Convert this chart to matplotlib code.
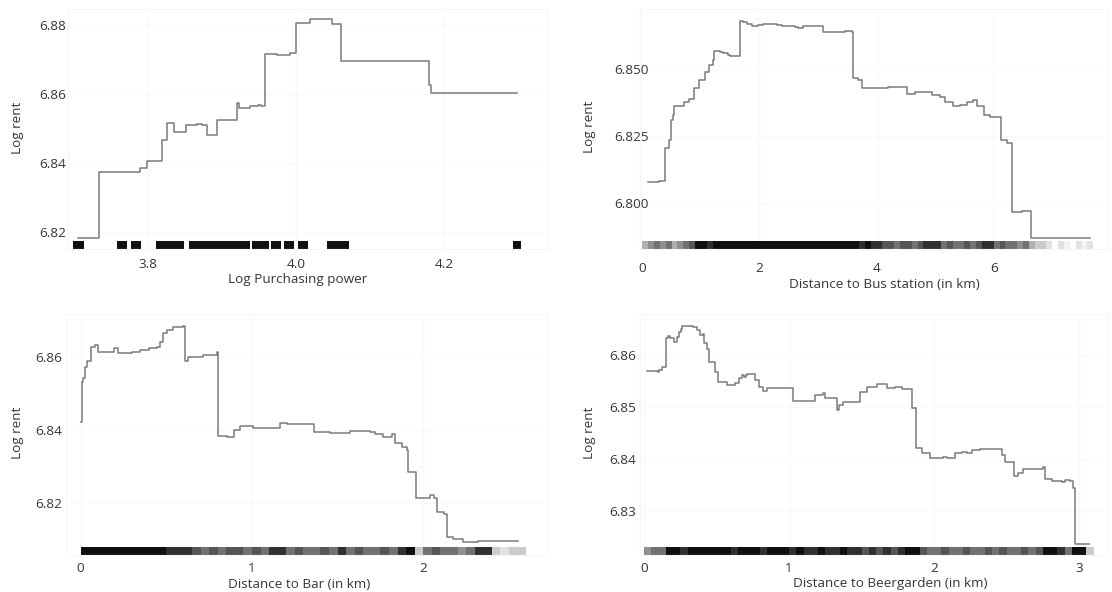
import numpy as np
import matplotlib
matplotlib.use("Agg")
import matplotlib.pyplot as plt

# ---------------- data ----------------
# Panel 1: Log Purchasing power (step curve: value holds from x_i to x_{i+1})
pp_x = [3.706, 3.734, 3.789, 3.799, 3.8185, 3.826, 3.835, 3.851, 3.866, 3.873, 3.880,
        3.893, 3.920, 3.923, 3.938, 3.949, 3.953, 3.958, 3.974, 3.992, 4.000, 4.019,
        4.048, 4.061, 4.179, 4.182, 4.298]
pp_y = [6.8183, 6.8374, 6.8386, 6.8407, 6.8467, 6.8516, 6.8490, 6.8510, 6.8514, 6.8512, 6.8482,
        6.8525, 6.8574, 6.8561, 6.8567, 6.8570, 6.8566, 6.8716, 6.8713, 6.8721, 6.8806, 6.8817,
        6.8804, 6.8695, 6.8627, 6.8603, 6.8603]
pp_rug = [3.702, 3.706, 3.709, 3.761, 3.767, 3.780, 3.786,
          3.814, 3.819, 3.824, 3.829, 3.834, 3.839, 3.845,
          3.858, 3.863, 3.868, 3.873, 3.878, 3.883, 3.888, 3.893, 3.898, 3.903,
          3.908, 3.913, 3.918, 3.923, 3.928, 3.934,
          3.943, 3.948, 3.953, 3.960, 3.969, 3.976, 3.987, 3.993, 4.005, 4.012,
          4.045, 4.050, 4.056, 4.062, 4.068, 4.296, 4.300]

# Panel 2: Distance to Bus station
bus_x = [0.102, 0.290, 0.387, 0.461, 0.490, 0.515, 0.540, 0.712, 0.802, 0.882, 0.973,
         1.070, 1.138, 1.200, 1.224, 1.326, 1.382, 1.468, 1.497, 1.667, 1.718, 1.790,
         1.867, 1.980, 2.065, 2.235, 2.300, 2.379, 2.606, 2.662, 2.747, 3.090, 3.459,
         3.573, 3.590, 3.686, 3.744, 4.198, 4.369, 4.470, 4.512, 4.654, 4.939, 5.080,
         5.166, 5.307, 5.421, 5.536, 5.648, 5.706, 5.831, 5.933, 6.126, 6.218, 6.314,
         6.474, 6.628, 7.640]
bus_y = [6.8078, 6.8083, 6.8207, 6.8236, 6.8310, 6.8330, 6.8362, 6.8378, 6.8388, 6.8428, 6.8459,
         6.8490, 6.8514, 6.8533, 6.8568, 6.8562, 6.8558, 6.8552, 6.8548, 6.8679, 6.8675, 6.8668,
         6.8660, 6.8663, 6.8666, 6.8668, 6.8664, 6.8660, 6.8655, 6.8651, 6.8660, 6.8639, 6.8641,
         6.8639, 6.8467, 6.8459, 6.8428, 6.8432, 6.8434, 6.8432, 6.8405, 6.8415, 6.8404, 6.8394,
         6.8378, 6.8362, 6.8365, 6.8378, 6.8384, 6.8362, 6.8328, 6.8320, 6.8236, 6.8225, 6.7969,
         6.7972, 6.7872, 6.7872]
bus_rug_start, bus_rug_bin = 0.0, 0.1
bus_rug = [4, 5, 6, 5, 6, 4, 5, 6, 7, 9, 9, 8, 9, 9, 9,
           9, 9, 9, 9, 9, 9, 9, 9, 9, 9, 9, 9, 9, 9, 9, 9, 9, 9, 9, 9, 9,
           9, 8, 9, 8, 8, 7, 7, 6, 7, 7, 6, 7, 8, 8, 8, 6, 7, 6, 6, 7, 6, 7, 8, 8,
           6, 7, 6, 6, 5, 6, 4, 3, 3, 2, 0, 2, 1, 0, 2, 1, 2]

# Panel 3: Distance to Bar
bar_x = [0.000, 0.008, 0.015, 0.025, 0.035, 0.060, 0.083, 0.100, 0.132, 0.195, 0.220,
         0.300, 0.346, 0.400, 0.444, 0.463, 0.482, 0.502, 0.541, 0.599, 0.609, 0.628,
         0.716, 0.797, 0.803, 0.852, 0.895, 0.930, 1.008, 1.037, 1.163, 1.203, 1.362,
         1.455, 1.572, 1.690, 1.718, 1.767, 1.816, 1.835, 1.874, 1.903, 1.912, 1.956,
         2.040, 2.065, 2.078, 2.121, 2.137, 2.175, 2.234, 2.321, 2.555]
bar_y = [6.8422, 6.8530, 6.8541, 6.8573, 6.8588, 6.8627, 6.8632, 6.8614, 6.8612, 6.8623, 6.8609,
         6.8614, 6.8617, 6.8623, 6.8626, 6.8641, 6.8664, 6.8673, 6.8682, 6.8685, 6.8588, 6.8600,
         6.8605, 6.8614, 6.8383, 6.8379, 6.8399, 6.8411, 6.8405, 6.8404, 6.8419, 6.8416, 6.8395,
         6.8392, 6.8397, 6.8394, 6.8387, 6.8381, 6.8387, 6.8363, 6.8353, 6.8344, 6.8285, 6.8214,
         6.8221, 6.8214, 6.8175, 6.8168, 6.8107, 6.8100, 6.8092, 6.8095, 6.8095]
bar_rug_start, bar_rug_bin = 0.0, 0.05
bar_rug = [9, 9, 9, 9, 9, 9, 9, 9, 9, 9, 8, 8, 8, 7,
           6, 7, 6, 7, 7, 6, 7, 6, 8, 8, 6, 7, 6, 6, 7, 6, 8,
           6, 7, 6, 6, 7, 6, 8, 9, 3, 6, 7, 6, 6, 5, 6, 8, 8, 3, 2, 3, 3]

# Panel 4: Distance to Beergarden
beer_x = [0.023, 0.099, 0.106, 0.122, 0.152, 0.168, 0.180, 0.205, 0.226, 0.243, 0.255,
          0.260, 0.335, 0.363, 0.386, 0.405, 0.414, 0.437, 0.450, 0.490, 0.512, 0.570,
          0.630, 0.657, 0.674, 0.690, 0.700, 0.708, 0.765, 0.795, 0.819, 0.846, 1.030,
          1.181, 1.237, 1.248, 1.329, 1.347, 1.374, 1.490, 1.536, 1.605, 1.674, 1.731,
          1.777, 1.846, 1.876, 1.915, 1.972, 2.064, 2.088, 2.145, 2.191, 2.230, 2.260,
          2.317, 2.398, 2.421, 2.467, 2.490, 2.552, 2.581, 2.616, 2.754, 2.766, 2.812,
          2.881, 2.903, 2.938, 2.957, 2.972, 3.071]
beer_y = [6.8570, 6.8568, 6.8572, 6.8578, 6.8633, 6.8638, 6.8633, 6.8626, 6.8636, 6.8645, 6.8650,
          6.8657, 6.8654, 6.8649, 6.8639, 6.8642, 6.8623, 6.8613, 6.8588, 6.8568, 6.8548, 6.8543,
          6.8546, 6.8556, 6.8563, 6.8558, 6.8563, 6.8564, 6.8553, 6.8540, 6.8531, 6.8537, 6.8512,
          6.8524, 6.8527, 6.8518, 6.8495, 6.8504, 6.8510, 6.8529, 6.8540, 6.8544, 6.8537, 6.8540,
          6.8535, 6.8499, 6.8421, 6.8412, 6.8403, 6.8404, 6.8402, 6.8412, 6.8415, 6.8413, 6.8418,
          6.8420, 6.8419, 6.8420, 6.8408, 6.8395, 6.8367, 6.8373, 6.8381, 6.8386, 6.8363, 6.8358,
          6.8356, 6.8360, 6.8358, 6.8345, 6.8238, 6.8238]
beer_rug_start, beer_rug_bin = 0.0, 0.05
beer_rug = [5, 6, 6,
            9, 9, 8, 9, 9, 9, 9, 9, 9, 8, 9, 9, 9, 8, 9, 9, 9,
            8, 9, 8, 8, 9, 8, 8, 9, 8, 8,
            7, 8, 7, 8, 7, 8, 9, 9,
            7, 6, 6, 7, 6, 6, 7, 6, 6, 7,
            6, 7, 6, 6, 7, 6, 7, 9, 9, 8, 6, 9, 9, 3]

# tick labels
pp_xticks = [3.8, 4.0, 4.2]
pp_yticks = [6.82, 6.84, 6.86, 6.88]
bus_xticks = [0, 2, 4, 6]
bus_yticks = [6.800, 6.825, 6.850]
bar_xticks = [0, 1, 2]
bar_yticks = [6.82, 6.84, 6.86]
beer_xticks = [0, 1, 2, 3]
beer_yticks = [6.83, 6.84, 6.85, 6.86]

# ---------------- figure ----------------
W, H = 1112, 592
plt.rcParams['font.family'] = ['Open Sans', 'DejaVu Sans']
TXT = '#363636'
fig = plt.figure(figsize=(W / 100, H / 100), dpi=100)


def px_rect(l, t, r, b):
    return [l / W, 1 - b / H, (r - l) / W, (b - t) / H]


def fig_xy(x, y):
    return x / W, 1 - y / H


def panel(rect, x, y, xlim, ylim, xticks, yticks, xfmt, yfmt, xlabel,
          xlab_pos, ylab_pos, ypad, xpad, rug_ticks=None, rug_bins=None):
    ax = fig.add_axes(px_rect(*rect))
    ax.set_facecolor('white')
    ax.plot(x, y, drawstyle='steps-post', color='#7a7a7a', lw=1.1, zorder=3)
    trans = ax.get_xaxis_transform()
    if rug_ticks is not None:
        ax.vlines(rug_ticks, 0, 0.033, transform=trans, colors='#111111', lw=3.6,
                  antialiased=False, zorder=2)
    if rug_bins is not None:
        start, step, vals = rug_bins
        edges = start + step * np.arange(len(vals) + 1)
        ax.pcolormesh(edges, [0.0, 0.034], np.array(vals, dtype=float)[None, :],
                      cmap='Greys', vmin=0, vmax=9.5, transform=trans,
                      shading='flat', edgecolors='none', antialiased=False, zorder=2)
    ax.set_xlim(*xlim)
    ax.set_ylim(*ylim)
    ax.set_xticks(xticks)
    ax.set_yticks(yticks)
    ax.set_xticklabels([xfmt.format(v) for v in xticks])
    ax.set_yticklabels([yfmt.format(v) for v in yticks])
    ax.tick_params(axis='both', length=0, labelsize=9.7, labelcolor=TXT)
    ax.tick_params(axis='y', pad=ypad)
    ax.tick_params(axis='x', pad=xpad)
    ax.grid(True, color='#f9f9f9', lw=0.8, zorder=0)
    for s in ax.spines.values():
        s.set_color('#f6f6f6')
        s.set_linewidth(0.8)
    ax.set_xlabel(xlabel, fontsize=9.7, color=TXT)
    ax.set_ylabel('Log rent', fontsize=9.7, color=TXT)
    ax.xaxis.set_label_coords(*fig_xy(*xlab_pos), transform=fig.transFigure)
    ax.yaxis.set_label_coords(*fig_xy(*ylab_pos), transform=fig.transFigure)
    ax.xaxis.label.set_va('center')
    ax.yaxis.label.set_va('center')
    return ax


panel((68, 9, 547, 249.3), pp_x, pp_y, (3.692, 4.339), (6.8151, 6.8847),
      pp_xticks, pp_yticks, '{:.1f}', '{:.2f}', 'Log Purchasing power',
      (298, 279), (18, 128), 1.0, 6.2, rug_ticks=pp_rug)

panel((640, 9, 1108, 249.3), bus_x, bus_y, (-0.04, 7.95), (6.7829, 6.8723),
      bus_xticks, bus_yticks, '{:d}', '{:.3f}', 'Distance to Bus station (in km)',
      (884, 284), (589, 127), -6.0, 8.8,
      rug_bins=(bus_rug_start, bus_rug_bin, bus_rug))

panel((66.4, 314.3, 547, 555), bar_x, bar_y, (-0.083, 2.722), (6.8057, 6.8716),
      bar_xticks, bar_yticks, '{:d}', '{:.2f}', 'Distance to Bar (in km)',
      (299, 584), (18, 433), 3.0, 5.2,
      rug_bins=(bar_rug_start, bar_rug_bin, bar_rug))

panel((640, 314.3, 1108, 555), beer_x, beer_y, (-0.028, 3.2), (6.8216, 6.8679),
      beer_xticks, beer_yticks, '{:d}', '{:.2f}', 'Distance to Beergarden (in km)',
      (890, 584), (590, 433), 3.0, 5.2,
      rug_bins=(beer_rug_start, beer_rug_bin, beer_rug))

fig.savefig('out.png', dpi=100, facecolor='white')
